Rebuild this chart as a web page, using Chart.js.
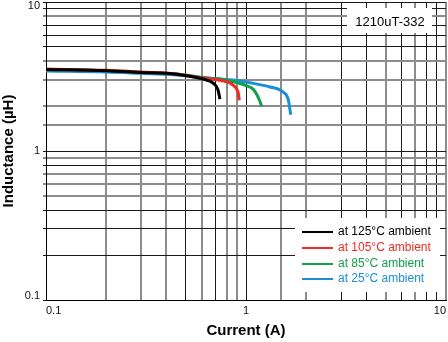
<!DOCTYPE html>
<html><head><meta charset="utf-8">
<script src="https://cdn.jsdelivr.net/npm/chart.js@4.4.1/dist/chart.umd.min.js"></script>
<style>html,body{margin:0;padding:0;background:#fff}#wrap{width:448px;height:342px;position:relative}</style>
</head><body><div id="wrap"><canvas id="c"></canvas></div>
<script>
// ---- data ----
const seriesLabels = ['at 125°C ambient', 'at 105°C ambient', 'at 85°C ambient', 'at 25°C ambient'];
const current125 = [0.1, 0.202, 0.299, 0.437, 0.525, 0.610, 0.684, 0.724, 0.741];
const inductance125 = [3.53, 3.46, 3.37, 3.29, 3.17, 3.04, 2.86, 2.58, 2.23];
const current105 = [0.1, 0.202, 0.299, 0.437, 0.610, 0.741, 0.832, 0.891, 0.915, 0.926];
const inductance105 = [3.55, 3.48, 3.39, 3.30, 3.09, 2.98, 2.86, 2.65, 2.45, 2.19];
const current85 = [0.1, 0.202, 0.299, 0.437, 0.610, 0.741, 0.899, 1.008, 1.088, 1.139, 1.168, 1.198];
const inductance85 = [3.52, 3.46, 3.37, 3.30, 3.11, 3.04, 2.88, 2.74, 2.59, 2.36, 2.19, 2.00];
const current25 = [0.1, 0.202, 0.299, 0.437, 0.610, 0.899, 1.047, 1.318, 1.537, 1.627, 1.673];
const inductance25 = [3.44, 3.39, 3.32, 3.25, 3.10, 2.97, 2.87, 2.69, 2.48, 2.21, 1.75];
const tickValues = [0.1, 1, 10];
const tickLabels = ['0.1', '1', '10'];
const partNumber = '1210uT-332';
const xTitle = 'Current (A)';
const yTitle = 'Inductance (µH)';

// ---- styles ----
const seriesColors = ['#000000', '#ee2a22', '#13a04a', '#1b8fd8'];
const FONT = '"Liberation Sans", Arial, Helvetica, sans-serif';
const GRAY = '#8c8c8c', DARK = '#1a1a1a';
const xDarkLines = ['0.1', '0.5', '0.7', '1', '3', '4', '6', '8', '9'];
const yDarkLines = ['0.1', '0.2', '0.3', '0.4', '0.8', '1', '5', '6', '7', '9', '10'];
const key = v => String(+Number(v).toPrecision(2));
const isDark = (list, ctx) => ctx.tick && list.includes(key(ctx.tick.value));

function pts(xs, ys) { return xs.map((x, i) => ({ x: x, y: ys[i] })); }
function tickIndex(v) { return tickValues.findIndex(t => Math.abs(t - v) / t < 1e-6); }

const currents = [current125, current105, current85, current25];
const inductances = [inductance125, inductance105, inductance85, inductance25];
const datasets = seriesLabels.map((lab, i) => ({
  label: lab,
  data: pts(currents[i], inductances[i]),
  borderColor: seriesColors[i],
  backgroundColor: seriesColors[i],
  borderWidth: 3,
  pointRadius: 0,
  fill: false,
  cubicInterpolationMode: 'monotone'
}));

const overlayPlugin = {
  id: 'overlay',
  beforeDatasetsDraw(chart) {
    const { ctx, chartArea: a } = chart;
    ctx.save();
    // part number label
    ctx.fillStyle = '#fff';
    ctx.fillRect(a.right - 99, a.top + 6, 85, 25);
    ctx.fillStyle = '#000';
    ctx.font = '13px ' + FONT;
    ctx.textAlign = 'center';
    ctx.textBaseline = 'middle';
    ctx.fillText(partNumber, a.right - 56, a.top + 20);
    // legend
    const lx = a.right - 151, ly = a.bottom - 82;
    ctx.fillStyle = '#fff';
    ctx.fillRect(lx, ly, 145, 74);
    ctx.font = '12px ' + FONT;
    ctx.textAlign = 'left';
    chart.data.datasets.forEach((ds, i) => {
      const y = Math.round(ly + 14 + i * 15.8);
      ctx.strokeStyle = ds.borderColor;
      ctx.lineWidth = 2;
      ctx.beginPath(); ctx.moveTo(lx + 7, y); ctx.lineTo(lx + 38, y); ctx.stroke();
      ctx.fillStyle = ds.borderColor;
      ctx.fillText(ds.label, lx + 43, y);
    });
    ctx.restore();
  }
};

new Chart(document.getElementById('c'), {
  type: 'line',
  data: { datasets: datasets },
  plugins: [overlayPlugin],
  options: {
    responsive: true,
    maintainAspectRatio: false,
    animation: false,
    parsing: true,
    layout: { padding: { left: 0, right: 2, top: 2, bottom: 0 } },
    plugins: { legend: { display: false }, tooltip: { enabled: false } },
    scales: {
      x: {
        type: 'logarithmic',
        min: 0.1, max: 10,
        border: { display: true, color: '#000', width: 1 },
        grid: {
          drawTicks: false,
          color: ctx => isDark(xDarkLines, ctx) ? DARK : GRAY,
          lineWidth: ctx => isDark(xDarkLines, ctx) ? 1 : 2
        },
        ticks: {
          autoSkip: false, maxRotation: 0, minRotation: 0,
          align: 'inner', padding: 4, color: '#111',
          font: { family: FONT, size: 11 },
          callback: v => { const i = tickIndex(v); return i >= 0 ? tickLabels[i] : ''; }
        },
        title: { display: true, text: xTitle, color: '#000', font: { family: FONT, size: 15, weight: 'bold', lineHeight: 1.2 }, padding: { top: 0, bottom: 2 } },
        afterFit: s => { s.height = 42; s.paddingLeft = 0; s.paddingRight = 0; }
      },
      y: {
        type: 'logarithmic',
        min: 0.1, max: 10,
        border: { display: true, color: '#000', width: 1 },
        grid: {
          drawTicks: true, tickLength: 3,
          color: ctx => isDark(yDarkLines, ctx) ? DARK : GRAY,
          lineWidth: ctx => isDark(yDarkLines, ctx) ? 1 : 2
        },
        ticks: {
          autoSkip: false, padding: 3, color: '#111',
          font: { family: FONT, size: 11, lineHeight: 0.8 },
          callback: v => {
            const i = tickIndex(v);
            if (i < 0) return '';
            if (i === tickValues.length - 1) return ['', tickLabels[i]];
            if (i === 0) return [tickLabels[i], ''];
            return tickLabels[i];
          }
        },
        title: { display: true, text: yTitle, color: '#000', font: { family: FONT, size: 15, weight: 'bold', lineHeight: 1.2 }, padding: { top: 0, bottom: 0 } },
        afterFit: s => { s.width = 46; s.paddingTop = 0; s.paddingBottom = 0; }
      }
    }
  }
});
</script></body></html>
